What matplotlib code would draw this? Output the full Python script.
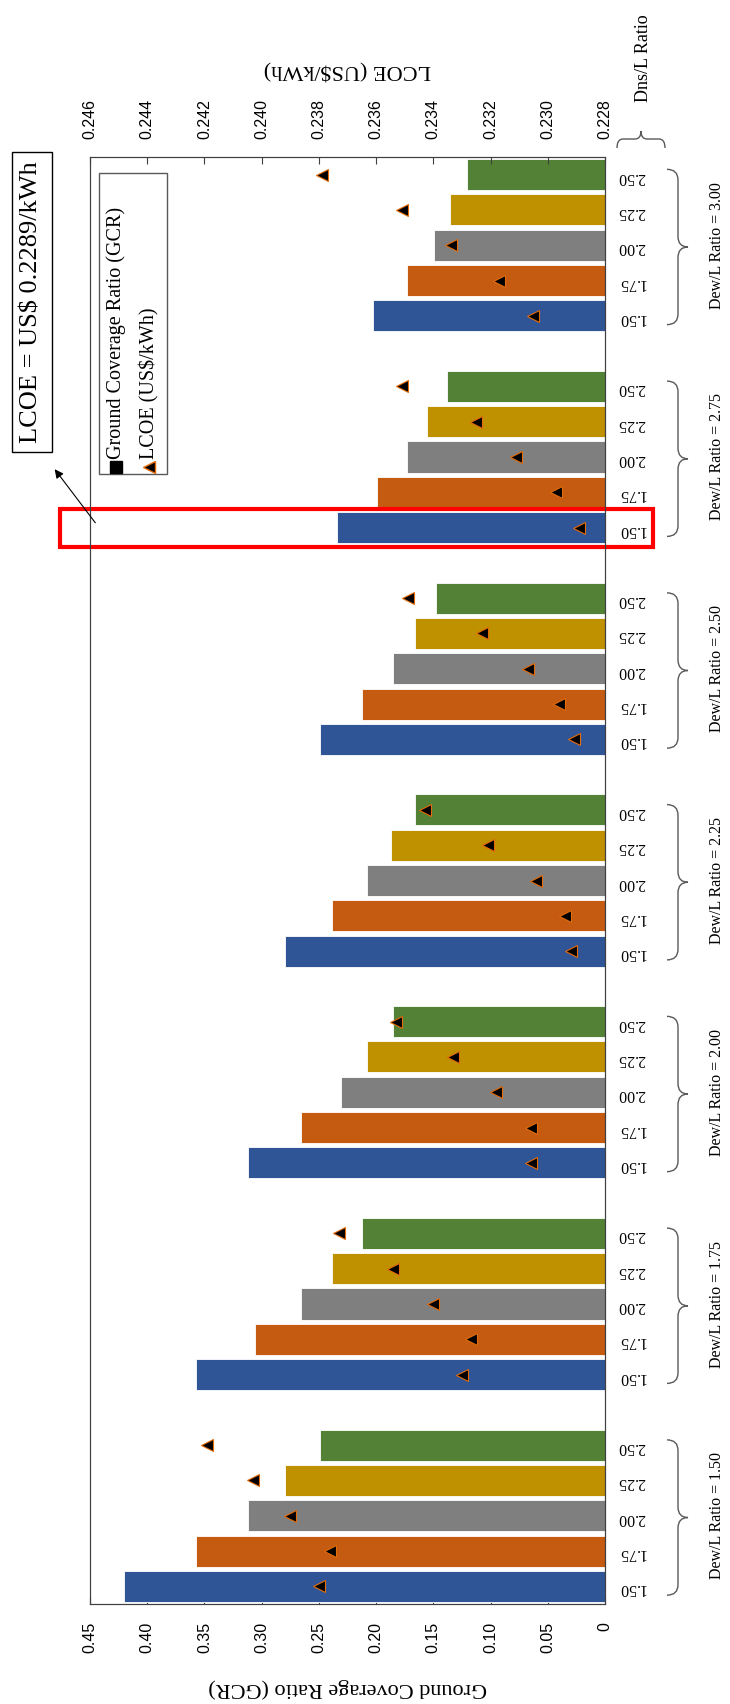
import matplotlib
matplotlib.use("Agg")
import matplotlib.pyplot as plt
from matplotlib import transforms
from matplotlib.lines import Line2D
from matplotlib.patches import FancyArrowPatch, PathPatch, Rectangle
from matplotlib.path import Path

plt.rcParams["font.family"] = ["Liberation Serif", "DejaVu Serif"]

W, H = 730, 1704

dew_ratios = ["1.50", "1.75", "2.00", "2.25", "2.50", "2.75", "3.00"]
dns_ratios = ["1.50", "1.75", "2.00", "2.25", "2.50"]

# ground coverage ratio, one row per Dew/L ratio, columns follow dns_ratios
gcr = [
    [0.4201, 0.3578, 0.3116, 0.2800, 0.2489],
    [0.3578, 0.3055, 0.2659, 0.2384, 0.2125],
    [0.3116, 0.2659, 0.2307, 0.2080, 0.1849],
    [0.2800, 0.2384, 0.2080, 0.1874, 0.1663],
    [0.2489, 0.2125, 0.1849, 0.1663, 0.1477],
    [0.2339, 0.1991, 0.1728, 0.1558, 0.1384],
    [0.2024, 0.1728, 0.1493, 0.1356, 0.1206],
]

# levelised cost of energy (US$/kWh), same layout
lcoe = [
    [0.2380, 0.2376, 0.2390, 0.2403, 0.2419],
    [0.2330, 0.2327, 0.2340, 0.2354, 0.2373],
    [0.2306, 0.2306, 0.2318, 0.2333, 0.2353],
    [0.2292, 0.2294, 0.2304, 0.2321, 0.2343],
    [0.2291, 0.2296, 0.2307, 0.2323, 0.2349],
    [0.2289, 0.2297, 0.2311, 0.2325, 0.2351],
    [0.2305, 0.2317, 0.2334, 0.2351, 0.2379],
]

gcr_ticks = [0, 0.05, 0.10, 0.15, 0.20, 0.25, 0.30, 0.35, 0.40, 0.45]
lcoe_ticks = [0.228, 0.230, 0.232, 0.234, 0.236, 0.238, 0.240, 0.242, 0.244, 0.246]

best = ("2.75", "1.50")
best_label = "LCOE = US\\$ 0.2289/kWh"

bar_colors = ["#2F5597", "#C55A11", "#7F7F7F", "#BF9000", "#538135"]
marker_edge = "#E46C0A"
frame_color = "#404040"
SANS = ["Liberation Sans", "DejaVu Sans"]


def fig_xy(x, y):
    """pixel position (from top-left) -> figure fraction"""
    return x / W, 1 - y / H


fig = plt.figure(figsize=(W / 100, H / 100), dpi=100)
ax_left, ax_right, ax_top, ax_bottom = 90, 605, 157, 1604
ax = fig.add_axes([ax_left / W, 1 - ax_bottom / H,
                   (ax_right - ax_left) / W, (ax_bottom - ax_top) / H])

n_dew, n_dns = len(dew_ratios), len(dns_ratios)
group_step = n_dns + 1


def slot(i, j):
    # top of the chart is the last Dew/L group, highest Dns/L first
    return (n_dew - 1 - i) * group_step + (n_dns - 1 - j)


ytick_pos, ytick_lab = [], []
for i, dew in enumerate(dew_ratios):
    pos = [slot(i, j) for j in range(n_dns)]
    ax.barh(pos, gcr[i], height=0.88, color=bar_colors,
            edgecolor="white", linewidth=0.6, zorder=2)
    ytick_pos += pos
    ytick_lab += dns_ratios

n_slots = n_dew * group_step - 1
ax.set_ylim(n_slots - 0.5, -0.5)
ax.set_xlim(0.45, 0)

ax.set_xticks(gcr_ticks)
ax.set_xticklabels(["0"] + [f"{t:.2f}" for t in gcr_ticks[1:]], family=SANS)
ax.tick_params(axis="x", direction="in", length=5, width=0.8, pad=13,
               labelrotation=90, labelsize=11.5, color=frame_color)

ax.yaxis.tick_right()
ax.set_yticks(ytick_pos)
ax.set_yticklabels(ytick_lab)
ax.tick_params(axis="y", direction="in", length=4, width=0.8, pad=9,
               labelrotation=180, labelsize=11.5, color=frame_color)

for sp in ax.spines.values():
    sp.set_color(frame_color)
    sp.set_linewidth(0.8)

# LCOE on the secondary (top) axis
ax2 = ax.twiny()
ax2.set_xlim(0.246, 0.228)
for i in range(n_dew):
    pos = [slot(i, j) for j in range(n_dns)]
    ax2.plot(lcoe[i], pos, linestyle="none", marker="<", ms=9,
             mfc="black", mec=marker_edge, mew=0.8, zorder=3)
ax2.set_xticks(lcoe_ticks)
ax2.set_xticklabels([f"{t:.3f}" for t in lcoe_ticks], family=SANS)
ax2.tick_params(axis="x", direction="in", length=5, width=0.8, pad=13,
                labelrotation=90, labelsize=11.5, color=frame_color)
for sp in ax2.spines.values():
    sp.set_color(frame_color)
    sp.set_linewidth(0.8)

ax.set_xlabel("Ground Coverage Ratio (GCR)", fontsize=16, rotation=180,
              va="center")
ax.xaxis.set_label_coords(0.5, (ax_bottom - 1688) / (ax_bottom - ax_top))
ax2.set_xlabel("LCOE (US\\$/kWh)", fontsize=16, rotation=180, va="center")
ax2.xaxis.set_label_coords(0.5, (ax_bottom - 70) / (ax_bottom - ax_top))

# braces grouping the bars by Dew/L ratio
blend = transforms.blended_transform_factory(ax.transAxes, ax.transData)
ax_w = ax_right - ax_left
bx0, bx1, bx2 = [(p - ax_left) / ax_w for p in (667, 678, 688)]
codes = [Path.MOVETO, Path.CURVE3, Path.CURVE3, Path.LINETO,
         Path.CURVE3, Path.CURVE3, Path.CURVE3, Path.CURVE3,
         Path.LINETO, Path.CURVE3, Path.CURVE3]
for i, dew in enumerate(dew_ratios):
    s_top, s_bot = slot(i, n_dns - 1), slot(i, 0)
    yt, yb = s_top - 0.15, s_bot + 0.25
    ym, r = (yt + yb) / 2, 0.3
    verts = [(bx0, yt), (bx1, yt), (bx1, yt + r), (bx1, ym - r),
             (bx1, ym), (bx2, ym), (bx1, ym), (bx1, ym + r),
             (bx1, yb - r), (bx1, yb), (bx0, yb)]
    ax.add_patch(PathPatch(Path(verts, codes), transform=blend, fill=False,
                           ec="#595959", lw=1.0, clip_on=False))
    ax.text((717 - ax_left) / ax_w, (s_top + s_bot) / 2, f"Dew/L Ratio = {dew}",
            transform=blend, rotation=90, ha="center", va="center",
            fontsize=11.5)

# brace over the Dns/L tick labels
hx0, hx1, hxm = 617, 665, 641
hy0, hy1, hy2 = 148, 139, 131
hverts = [fig_xy(hx0, hy0), fig_xy(hx0, hy1), fig_xy(hx0 + 6, hy1),
          fig_xy(hxm - 6, hy1), fig_xy(hxm, hy1), fig_xy(hxm, hy2),
          fig_xy(hxm, hy1), fig_xy(hxm + 6, hy1), fig_xy(hx1 - 6, hy1),
          fig_xy(hx1, hy1), fig_xy(hx1, hy0)]
fig.add_artist(PathPatch(Path(hverts, codes), transform=fig.transFigure,
                         fill=False, ec="#595959", lw=1.0))
fig.text(*fig_xy(643, 58), "Dns/L Ratio", rotation=90, ha="center",
         va="center", fontsize=13)

# highlight the cheapest configuration
bi, bj = dew_ratios.index(best[0]), dns_ratios.index(best[1])
bs = slot(bi, bj)
rx0, rx1 = 0.4762, -0.0419
ax.add_patch(Rectangle((rx1, bs - 0.54), rx0 - rx1, 1.08, fill=False,
                       ec="#FF0000", lw=3, clip_on=False, zorder=5))

fig.text(*fig_xy(32, 302), best_label, rotation=90, ha="center", va="center",
         fontsize=19,
         bbox=dict(boxstyle="square,pad=0.35", fc="white", ec="black", lw=1.0))
fig.add_artist(FancyArrowPatch(fig_xy(97, 525), fig_xy(53, 467),
                               transform=fig.transFigure, arrowstyle="-|>",
                               mutation_scale=13, lw=0.8, color="black"))

# legend, drawn by hand because it reads sideways
lx0, ly0, lx1, ly1 = 99, 173, 167, 474
fig.add_artist(Rectangle(fig_xy(lx0, ly1), (lx1 - lx0) / W, (ly1 - ly0) / H,
                         transform=fig.transFigure, fc="white",
                         ec="#595959", lw=1.0))
fig.add_artist(Line2D([116 / W], [1 - 467 / H], transform=fig.transFigure,
                      marker="s", ms=8, color="black", linestyle="none"))
fig.text(*fig_xy(116, 459), "Ground Coverage Ratio (GCR)", rotation=90,
         ha="center", va="bottom", fontsize=14.5)
fig.add_artist(Line2D([149 / W], [1 - 467 / H], transform=fig.transFigure,
                      marker="<", ms=8, mfc="black", mec=marker_edge,
                      linestyle="none"))
fig.text(*fig_xy(149, 459), "LCOE (US\\$/kWh)", rotation=90,
         ha="center", va="bottom", fontsize=14.5)

fig.savefig("out.png", dpi=100)
